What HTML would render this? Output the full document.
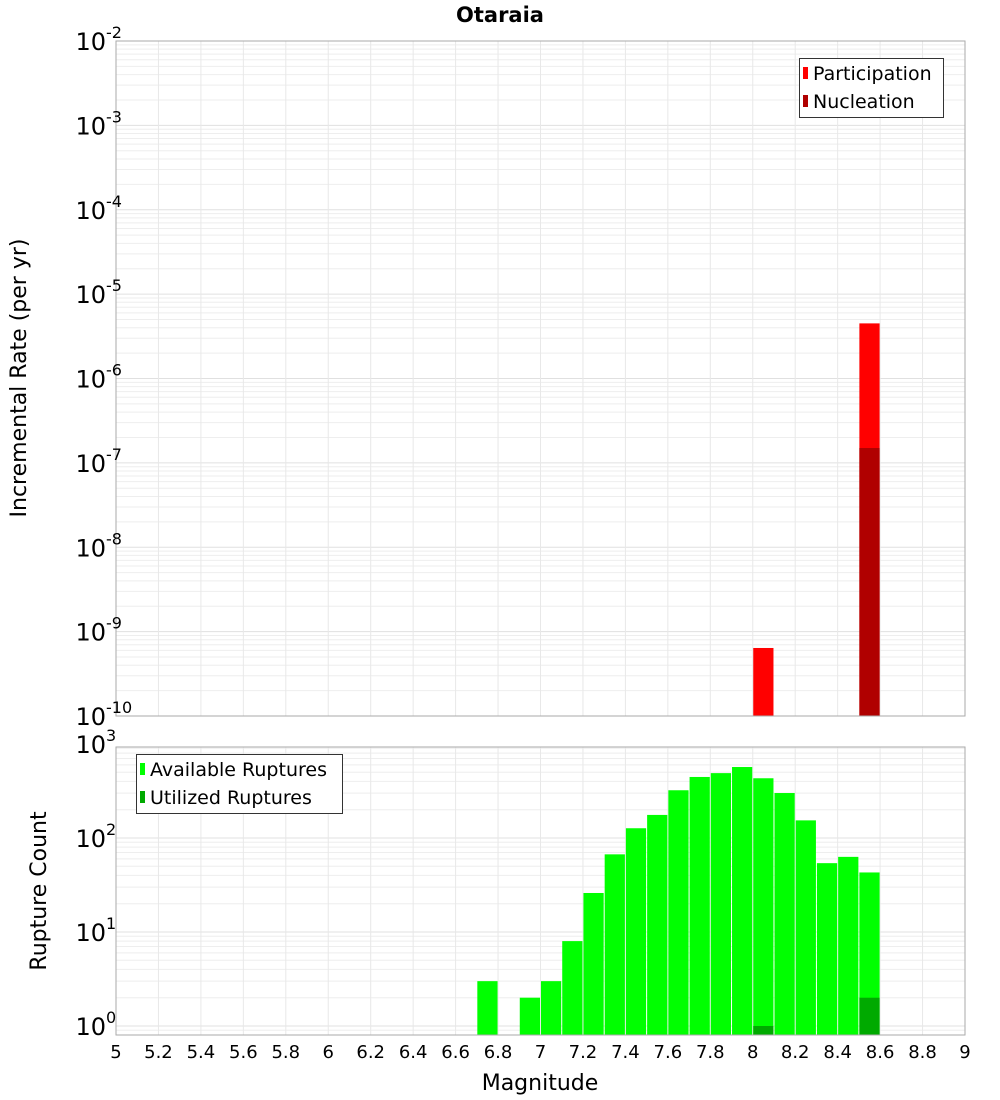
<!DOCTYPE html>
<html><head><meta charset="utf-8"><style>
body{margin:0;background:#fff}
svg{display:block;font-family:"DejaVu Sans","Liberation Sans",sans-serif}
</style></head><body>
<svg id="chart" width="1000" height="1100" viewBox="0 0 1000 1100">
<text x="500" y="22" text-anchor="middle" font-size="21" font-weight="bold">Otaraia</text>
<g id="topPlot"></g>
<g id="botPlot"></g>
<text transform="translate(26,378) rotate(-90)" text-anchor="middle" font-size="22">Incremental Rate (per yr)</text>
<text transform="translate(46,891) rotate(-90)" text-anchor="middle" font-size="22">Rupture Count</text>
<text x="540" y="1090" text-anchor="middle" font-size="22">Magnitude</text>
<g>
<rect x="799.5" y="58.5" width="144" height="59" fill="#fff" stroke="#333"/>
<rect x="803" y="67" width="5" height="12" fill="#ff0000"/>
<text x="813" y="80" font-size="19">Participation</text>
<rect x="803" y="95" width="5" height="12" fill="#b00000"/>
<text x="813" y="108" font-size="19">Nucleation</text>
</g>
<g>
<rect x="136.5" y="754.5" width="206" height="59" fill="#fff" stroke="#333"/>
<rect x="140" y="763" width="5" height="12" fill="#00ff00"/>
<text x="150" y="776" font-size="19">Available Ruptures</text>
<rect x="140" y="791" width="5" height="12" fill="#00aa00"/>
<text x="150" y="804" font-size="19">Utilized Ruptures</text>
</g>
</svg>
<script>
const xTicks=[5,5.2,5.4,5.6,5.8,6,6.2,6.4,6.6,6.8,7,7.2,7.4,7.6,7.8,8,8.2,8.4,8.6,8.8,9];
const rateDecades=[-2,-3,-4,-5,-6,-7,-8,-9,-10];
const countDecades=[3,2,1,0];
const partMags=[8.05,8.55];
const partRates=[6.4e-10,4.5e-6];
const nuclMags=[8.55];
const nuclRates=[1.5e-7];
const availMags=[6.75,6.95,7.05,7.15,7.25,7.35,7.45,7.55,7.65,7.75,7.85,7.95,8.05,8.15,8.25,8.35,8.45,8.55];
const availCounts=[3,2,3,8,26,67,127,176,322,446,490,569,432,301,154,54,63,43];
const usedMags=[8.05,8.55];
const usedCounts=[1,2];

const NS="http://www.w3.org/2000/svg";
const X0=116,X1=965;
const xs=m=>X0+(m-5)/4*(X1-X0);
const TY0=41,TY1=716;
const yTop=v=>TY0+(-2-Math.log10(v))*(TY1-TY0)/8;
const BY0=747,BY1=1035;
const yBot=v=>1026-94*Math.log10(v);
function mk(p,tag,a){const e=document.createElementNS(NS,tag);for(const k in a)e.setAttribute(k,a[k]);p.appendChild(e);return e;}
const gTop=document.getElementById('topPlot'),gBot=document.getElementById('botPlot');

function grid(g,y0,y1,yf,dmin,dmax){
  for(let d=dmin;d<dmax;d++)for(let k=1;k<10;k++){
    const y=yf(k*Math.pow(10,d));if(y<y0||y>y1)continue;
    const l=mk(g,'line',{x1:X0,x2:X1,y1:y,y2:y,stroke:k==1?'#e0e0e0':'#eeeeee','stroke-width':1});
    
    
  }
  xTicks.forEach(t=>{const l=mk(g,'line',{x1:xs(t),x2:xs(t),y1:y0,y2:y1,stroke:'#e8e8e8'});
    
    });
}
grid(gTop,TY0,TY1,yTop,-10,-2);
grid(gBot,BY0,BY1,yBot,-1,3);

function bar(g,m,v,yf,base,fill,name){
  const x=xs(m-0.05)+0.5,w=xs(m+0.05)-xs(m-0.05)-1,y=yf(v);
  const r=mk(g,'rect',{x:x,y:y,width:w,height:base-y,fill:fill});
  
  
}
partMags.forEach((m,i)=>bar(gTop,m,partRates[i],yTop,TY1,'#ff0000','participation-bar'));
nuclMags.forEach((m,i)=>bar(gTop,m,nuclRates[i],yTop,TY1,'#b00000','nucleation-bar'));
availMags.forEach((m,i)=>bar(gBot,m,availCounts[i],yBot,BY1,'#00ff00','available-bar'));
usedMags.forEach((m,i)=>bar(gBot,m,usedCounts[i],yBot,BY1,'#00aa00','utilized-bar'));

mk(gTop,'rect',{x:X0,y:TY0,width:X1-X0,height:TY1-TY0,fill:'none',stroke:'#aaa'});
mk(gBot,'rect',{x:X0,y:BY0,width:X1-X0,height:BY1-BY0,fill:'none',stroke:'#aaa'});

function ylab(g,d,y){
  const t=mk(g,'text',{x:106,y:y+9,'text-anchor':'end','font-size':24});
  
  
  t.textContent='10';
  const s=mk(g,'text',{x:106,y:y-3,'font-size':16});
  
  
  s.textContent=String(d);
}
rateDecades.forEach(d=>ylab(gTop,d,yTop(Math.pow(10,d))));
countDecades.forEach(d=>ylab(gBot,d,yBot(Math.pow(10,d))));
xTicks.forEach(t=>{const e=mk(gBot,'text',{x:xs(t),y:1058,'text-anchor':'middle','font-size':18});
  
  
  e.textContent=String(t);});
</script>
</body></html>
